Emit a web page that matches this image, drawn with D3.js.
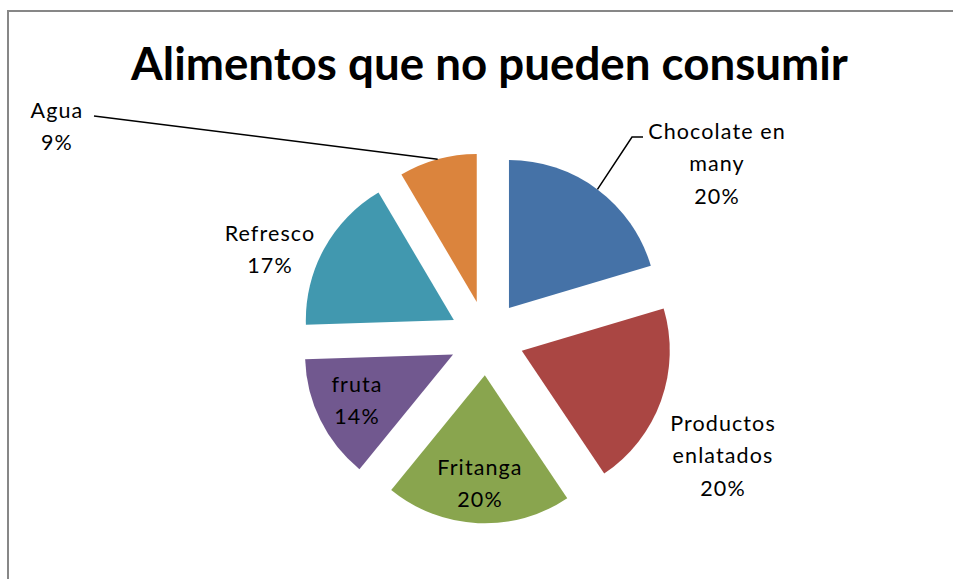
<!DOCTYPE html>
<html><head><meta charset="utf-8">
<script src="https://cdn.jsdelivr.net/npm/d3@7"></script>
<style>body{margin:0;background:#fff}svg{display:block}</style>
</head><body>
<script>
const title = "Alimentos que no pueden consumir";
const categories = ["Chocolate en many","Productos enlatados","Fritanga","fruta","Refresco","Agua"];
const labelLines = [["Chocolate en","many"],["Productos","enlatados"],["Fritanga"],["fruta"],["Refresco"],["Agua"]];
const values = [20.4,20.2,20.3,13.6,17.0,8.5];
const percentLabels = ["20%","20%","20%","14%","17%","9%"];
const colors = ["#4572A7","#AA4643","#89A54E","#71588F","#4198AF","#DB843D"];

const W=953,H=579;
const svg=d3.select("body").append("svg").attr("width",W).attr("height",H);
svg.append("rect").attr("x",8).attr("y",11).attr("width",W+10).attr("height",H+10)
  .attr("fill","#fff").attr("stroke","#878787").attr("stroke-width",2);

const t=svg.append("text").attr("x",489.5).attr("y",80).attr("text-anchor","middle")
  .attr("font-family","Lato, 'Open Sans', sans-serif").attr("font-weight","bold")
  .attr("font-size",44).attr("fill","#000").text(title);
const tw=t.node().getComputedTextLength();
t.attr("font-size",44*717/tw);

const cx=486.6,cy=338,R=148,explode=37.4;
const pie=d3.pie().sort(null).value(d=>d)(values);
const arc=d3.arc().innerRadius(0).outerRadius(R);
const g=svg.append("g").attr("transform",`translate(${cx},${cy})`);

const labelPos=[[717,131],[723,423],[480,467],[357,384],[270,233],[57,110]];

pie.forEach((p,i)=>{
  const mid=(p.startAngle+p.endAngle)/2;
  const dx=explode*Math.sin(mid), dy=-explode*Math.cos(mid);
  g.append("path").attr("d",arc(p)).attr("fill",colors[i])
   .attr("transform",`translate(${dx},${dy})`);
});

const pt=(i,rad)=>{const p=pie[i];const mid=(p.startAngle+p.endAngle)/2;
  return [cx+(explode+rad)*Math.sin(mid), cy-(explode+rad)*Math.cos(mid)];};
{
  const a=pt(0,R);
  svg.append("path").attr("d",d3.line()([[a[0],a[1]],[632,137],[643,137]]))
   .attr("fill","none").attr("stroke","#000").attr("stroke-width",1.5);
  const b=pt(5,R);
  svg.append("path").attr("d",d3.line()([[b[0],b[1]],[94,116]]))
   .attr("fill","none").attr("stroke","#000").attr("stroke-width",1.5);
}

pie.forEach((p,i)=>{
  const lines=labelLines[i].concat([percentLabels[i]]);
  const [lx,ly]=labelPos[i];
  lines.forEach((s,k)=>{
    svg.append("text").attr("x",lx).attr("y",ly+k*32.5).attr("dy","0.36em")
     .attr("text-anchor","middle").attr("font-family","Lato, 'Open Sans', sans-serif")
     .attr("font-size",21.5).attr("letter-spacing",1.1).attr("fill","#000").text(s);
  });
});
</script>
</body></html>
